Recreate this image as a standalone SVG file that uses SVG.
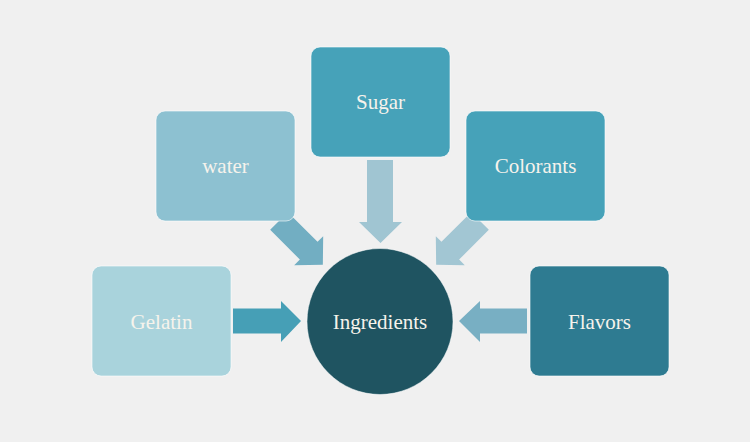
<svg xmlns="http://www.w3.org/2000/svg" width="750" height="442" viewBox="0 0 750 442">
<style>
.box{stroke:#ffffff;stroke-opacity:0.6;stroke-width:1}
.lbl{font-family:"Liberation Serif","DejaVu Serif",serif;font-size:21px;fill:#f6f3ec;text-anchor:middle;dominant-baseline:central}
</style>
<rect width="750" height="442" fill="#f0f0f0"/>
<g id="connectors">
<path d="M233,308.5 H281 V301 L301,321 L281,342 V333.5 H233 Z" fill="#469fb6"/>
<path d="M527,308.5 H480 V301 L459,321 L480,342 V333.5 H527 Z" fill="#78afc3"/>
<path d="M367,160 H393 V222 H402 L380.5,243 L359,222 H367 Z" fill="#a0c5d2"/>
<g transform="translate(279,221) rotate(45)"><path d="M0,-12.5 H42 V-20.5 L62,0 L42,20.5 V12.5 H0 Z" fill="#72aec2"/></g>
<g transform="translate(480,221) rotate(135)"><path d="M0,-12.5 H42 V-20.5 L62,0 L42,20.5 V12.5 H0 Z" fill="#a2c6d3"/></g>
</g>
<g id="gelatin"><rect class="box" x="92" y="266" width="139" height="110" rx="9" fill="#a9d3dc"/><text class="lbl" x="161.5" y="322">Gelatin</text></g>
<g id="water"><rect class="box" x="156" y="111" width="139" height="110" rx="9" fill="#8dc1d1"/><text class="lbl" x="225.5" y="166">water</text></g>
<g id="sugar"><rect class="box" x="311" y="47" width="139" height="110" rx="9" fill="#46a2b9"/><text class="lbl" x="380.5" y="102">Sugar</text></g>
<g id="colorants"><rect class="box" x="466" y="111" width="139" height="110" rx="9" fill="#46a2b9"/><text class="lbl" x="535.5" y="166">Colorants</text></g>
<g id="flavors"><rect class="box" x="530" y="266" width="139" height="110" rx="9" fill="#2e7b91"/><text class="lbl" x="599.5" y="322">Flavors</text></g>
<g id="ingredients"><circle cx="380" cy="321.5" r="73" fill="#1f5461" stroke="#ffffff" stroke-opacity="0.5" stroke-width="1"/><text class="lbl" x="380" y="322">Ingredients</text></g>
</svg>
